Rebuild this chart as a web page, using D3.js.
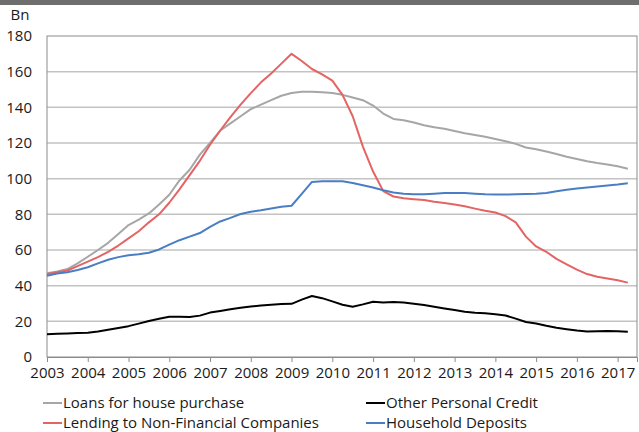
<!DOCTYPE html>
<html>
<head>
<meta charset="utf-8">
<script src="https://cdn.jsdelivr.net/npm/d3@7"></script>
<style>
  html, body { margin: 0; padding: 0; background: #fff; }
  svg { display: block; }
  text { font-family: "Open Sans", "Noto Sans", sans-serif; fill: #1a1a1a; }
</style>
</head>
<body>
<svg id="chart" width="639" height="432"></svg>
<script>
// Quarterly observations, 2003 Q1 to 2017 Q2 (Bn)
const startYear = 2003;
const step = 0.25;

const loansHouse = [47, 48, 49.3, 52.5, 56.2, 60, 64, 69, 74, 77, 80.5, 85.5,
  91, 99, 105, 113.5, 120, 127, 131, 135, 139, 141.5, 144, 146.5,
  148, 148.7, 148.8, 148.5, 148, 147, 145.5, 144, 141, 136.5, 133.5, 132.8,
  131.5, 130, 128.8, 128, 126.7, 125.5, 124.5, 123.5, 122.3, 121, 119.5, 117.5,
  116.5, 115.2, 113.8, 112.3, 111, 109.8, 108.8, 108, 107, 105.6];

const otherCredit = [12.7, 13, 13.2, 13.4, 13.6, 14.3, 15.3, 16.3, 17.3, 18.7, 20.2, 21.5,
  22.6, 22.6, 22.4, 23.2, 24.9, 25.8, 26.8, 27.6, 28.3, 28.9, 29.3, 29.7,
  29.8, 32.2, 34.2, 33, 31.2, 29.3, 28.2, 29.5, 31, 30.6, 30.8, 30.5,
  29.8, 29.2, 28.2, 27.2, 26.3, 25.4, 24.8, 24.5, 24, 23.3, 21.5, 19.6,
  18.8, 17.5, 16.4, 15.6, 14.8, 14.3, 14.5, 14.6, 14.5, 14.2];

const lendingNFC = [46.5, 47.5, 48.5, 51, 53.5, 56, 59, 62.5, 66.5, 70.5, 75.5, 80,
  86.5, 94, 102, 110, 119, 127, 134.5, 141.5, 148, 154, 159, 164.5,
  170, 166, 161.5, 158.5, 155, 147, 135, 118, 104, 93, 90, 89,
  88.5, 88, 87, 86.3, 85.5, 84.5, 83.2, 82, 81, 79, 75.5, 67.5,
  62, 59, 55, 52, 49, 46.5, 45, 44, 43, 41.7];

const deposits = [45.6, 46.8, 47.5, 48.8, 50.3, 52.5, 54.5, 56, 57, 57.6, 58.5, 60.3,
  63, 65.5, 67.5, 69.5, 73, 76, 78, 80.2, 81.5, 82.3, 83.3, 84.3,
  84.8, 91.5, 98.2, 98.5, 98.6, 98.5, 97.6, 96.3, 95, 93.5, 92.3, 91.6,
  91.2, 91.2, 91.6, 91.9, 92, 92, 91.6, 91.2, 91.1, 91.1, 91.2, 91.4,
  91.6, 92, 93, 93.8, 94.5, 95.1, 95.6, 96.2, 96.7, 97.4];

const yearTicks = d3.range(2003, 2018);
const valueTicks = [0, 20, 40, 60, 80, 100, 120, 140, 160, 180];
const unitLabel = "Bn";

const seriesNames = ["Loans for house purchase", "Other Personal Credit",
  "Lending to Non-Financial Companies", "Household Deposits"];
const seriesValues = [loansHouse, otherCredit, lendingNFC, deposits];
const seriesColors = ["#a6a6a6", "#000000", "#e46464", "#4a7ec4"];

// Layout
const plot = { left: 47, right: 637, top: 36, bottom: 357 };
const svg = d3.select("#chart");

// Header band
svg.append("rect").attr("x", 0).attr("y", 0).attr("width", 639).attr("height", 5)
  .attr("fill", "#6e6e6e");

const x = d3.scaleLinear()
  .domain([2003, 2003 + (plot.right - plot.left) / 40.76])
  .range([plot.left, plot.right]);
const y = d3.scaleLinear().domain([0, 180]).range([plot.bottom, plot.top]);

// Horizontal gridlines
svg.append("g")
  .selectAll("line")
  .data(valueTicks.filter(v => v > 0 && v < 180))
  .join("line")
  .attr("x1", plot.left).attr("x2", plot.right)
  .attr("y1", d => y(d)).attr("y2", d => y(d))
  .attr("stroke", "#c3c3c3").attr("stroke-width", 1.5);

// Plot frame
svg.append("rect")
  .attr("x", plot.left).attr("y", plot.top)
  .attr("width", plot.right - plot.left).attr("height", plot.bottom - plot.top)
  .attr("fill", "none").attr("stroke", "#8c8c8c").attr("stroke-width", 1);

// Y axis labels
const yAxis = d3.axisLeft(y).tickValues(valueTicks).tickSize(0).tickPadding(15);
const yg = svg.append("g").attr("transform", `translate(${plot.left},0)`).call(yAxis);
yg.select(".domain").remove();
yg.selectAll("text").attr("font-size", 15).attr("font-family", "Open Sans").attr("fill", "#1a1a1a");

svg.append("text").attr("x", 20).attr("y", 20).attr("text-anchor", "middle")
  .attr("font-size", 15).text(unitLabel);

// X axis
const xAxis = d3.axisBottom(x).tickValues(yearTicks).tickFormat(d3.format("d"))
  .tickSize(5).tickPadding(5);
const xg = svg.append("g").attr("transform", `translate(0,${plot.bottom})`).call(xAxis);
xg.select(".domain").attr("stroke", "#8c8c8c");
xg.selectAll(".tick line").attr("stroke", "#8c8c8c");
xg.selectAll("text").attr("font-size", 15).attr("font-family", "Open Sans").attr("fill", "#1a1a1a");

// Series lines
const line = d3.line()
  .x((d, i) => x(startYear + i * step))
  .y(d => y(d));

svg.append("g")
  .selectAll("path")
  .data(seriesValues)
  .join("path")
  .attr("d", d => line(d))
  .attr("fill", "none")
  .attr("stroke", (d, i) => seriesColors[i])
  .attr("stroke-width", 2)
  .attr("stroke-linejoin", "round");

// Legend, two columns
const legendPos = [[43, 403], [366, 403], [43, 423], [366, 423]];
const lg = svg.append("g").selectAll("g").data(seriesNames).join("g")
  .attr("transform", (d, i) => `translate(${legendPos[i][0]},${legendPos[i][1]})`);
lg.append("line").attr("x1", 0).attr("x2", 19).attr("y1", 0).attr("y2", 0)
  .attr("stroke", (d, i) => seriesColors[i]).attr("stroke-width", 2);
lg.append("text").attr("x", 20).attr("y", 0).attr("dy", "0.35em")
  .attr("font-size", 15).text(d => d);
</script>
</body>
</html>
